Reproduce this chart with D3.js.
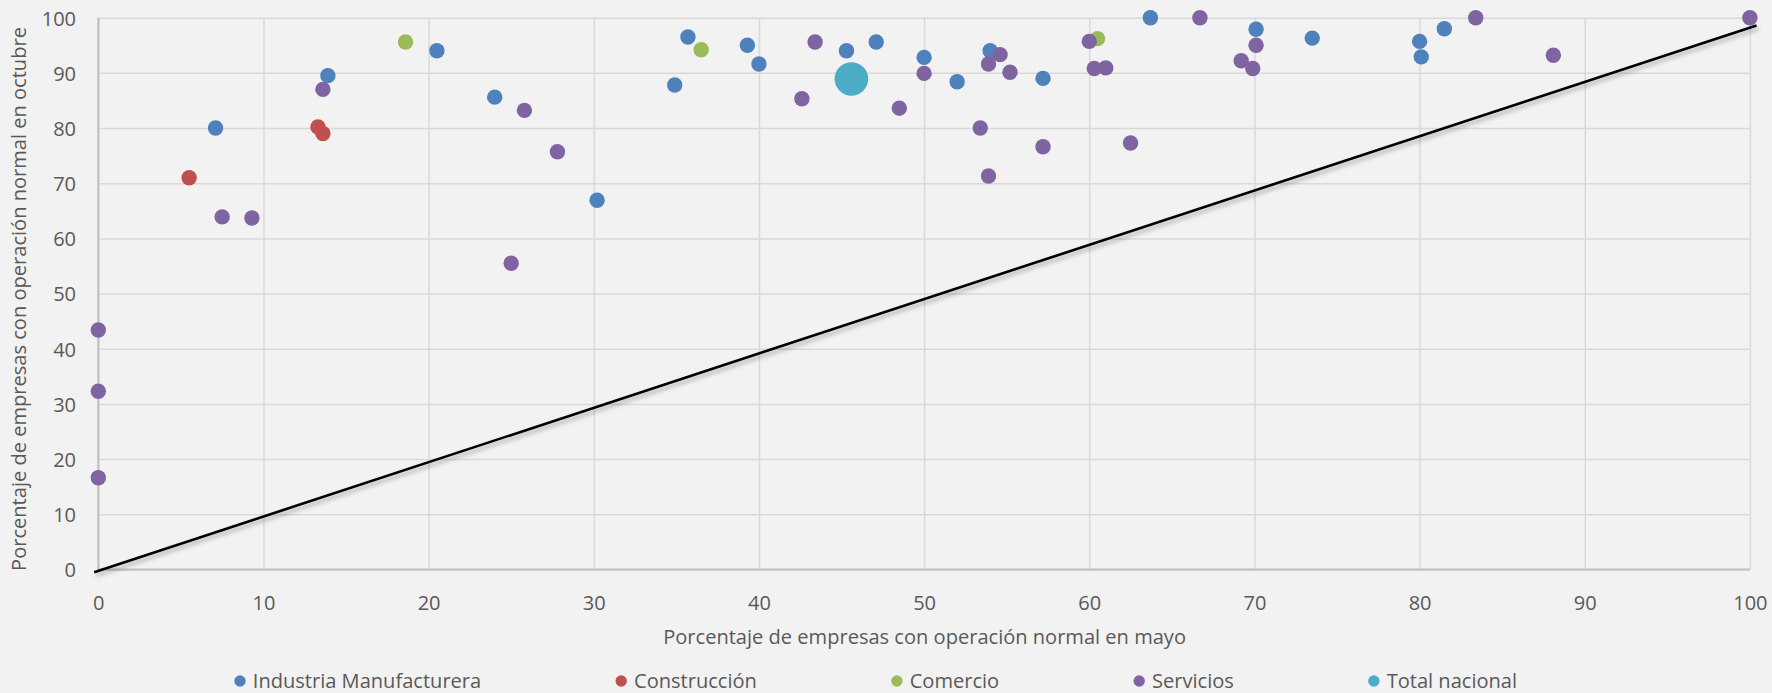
<!DOCTYPE html>
<html>
<head>
<meta charset="utf-8">
<script src="https://cdn.jsdelivr.net/npm/d3@7"></script>
<style>
  html, body { margin: 0; padding: 0; background: #f2f2f2; }
  svg { display: block; }
  text { font-family: "Open Sans", "Noto Sans", sans-serif; fill: #595959; }
</style>
</head>
<body>
<svg id="chart" width="1772" height="693"></svg>
<script>
// values: [mayo, octubre]
const industria = [[7.1,80],[13.9,89.5],[20.5,94],[24,85.6],[30.2,66.9],[34.9,87.8],[35.7,96.5],
  [39.3,95],[40,91.6],[45.3,94],[47.1,95.6],[50,92.8],[52,88.4],[54,94],[57.2,89],[63.7,100],
  [70.1,97.9],[73.5,96.3],[80,95.7],[80.1,92.9],[81.5,98]];
const construccion = [[5.5,71],[13.3,80.2],[13.6,79]];
const comercio = [[18.6,95.6],[36.5,94.2],[60.5,96.2]];
const servicios = [[0,43.4],[0,32.3],[0,16.6],[7.5,63.9],[9.3,63.7],[13.6,87],[25,55.5],[25.8,83.2],
  [27.8,75.7],[42.6,85.3],[43.4,95.6],[48.5,83.6],[50,89.9],[53.4,80],[53.9,71.3],[53.9,91.6],
  [54.6,93.3],[55.2,90.1],[57.2,76.6],[60,95.7],[60.3,90.8],[61,90.9],[62.5,77.3],[66.7,100],
  [69.2,92.2],[69.9,90.8],[70.1,95],[83.4,100],[88.1,93.2],[100,100]];
const totalNacional = [[45.6,88.9]];
const diagonal = [[-0.25,-0.5],[100.4,98.6]];

const seriesNames = ["Industria Manufacturera", "Construcción", "Comercio", "Servicios", "Total nacional"];
const seriesColors = ["#4f81bd", "#c0504d", "#9bbb59", "#8064a2", "#4bacc6"];
const seriesData = [industria, construccion, comercio, servicios, totalNacional];
const xTicks = d3.range(0, 101, 10);
const yTicks = d3.range(0, 101, 10);
const xTitle = "Porcentaje de empresas con operación normal en mayo";
const yTitle = "Porcentaje de empresas con operación normal en octubre";

const svg = d3.select('#chart');
const plotLeft = 98.3, plotRight = 1749.9, plotTop = 17.7, plotBottom = 569.4;

const x = d3.scaleLinear().domain([0, 100]).range([plotLeft, plotRight]);
const y = d3.scaleLinear().domain([0, 100]).range([plotBottom, plotTop]);

// pick a font size so the x title is about as wide as in the picture
const probe = svg.append('text').attr('font-size', 20).text(xTitle);
const fs = 20 * 523 / probe.node().getComputedTextLength();
probe.remove();
const tickFs = 20;

// grid
svg.append('g')
  .attr('transform', `translate(0,${plotBottom})`)
  .call(d3.axisBottom(x).tickValues(xTicks).tickSize(-(plotBottom - plotTop)).tickFormat(''))
  .call(g => g.select('.domain').remove())
  .call(g => g.selectAll('line').attr('stroke', '#d9d9d9').attr('stroke-width', 1.5));
svg.append('g')
  .attr('transform', `translate(${plotLeft},0)`)
  .call(d3.axisLeft(y).tickValues(yTicks).tickSize(-(plotRight - plotLeft)).tickFormat(''))
  .call(g => g.select('.domain').remove())
  .call(g => g.selectAll('line').attr('stroke', '#d9d9d9').attr('stroke-width', 1.5));

// axis lines
svg.append('line').attr('x1', plotLeft).attr('x2', plotLeft).attr('y1', plotTop).attr('y2', plotBottom)
  .attr('stroke', '#bfbfbf').attr('stroke-width', 2);
svg.append('line').attr('x1', plotLeft).attr('x2', plotRight).attr('y1', plotBottom).attr('y2', plotBottom)
  .attr('stroke', '#bfbfbf').attr('stroke-width', 2);

// tick labels
svg.append('g')
  .attr('transform', `translate(0,${plotBottom})`)
  .call(d3.axisBottom(x).tickValues(xTicks).tickSize(0))
  .call(g => g.select('.domain').remove())
  .call(g => g.selectAll('text').attr('y', 40.6).attr('dy', null)
    .attr('font-size', tickFs).attr('font-family', null).style('fill', '#595959'));
svg.append('g')
  .attr('transform', `translate(${plotLeft},0)`)
  .call(d3.axisLeft(y).tickValues(yTicks).tickSize(0))
  .call(g => g.select('.domain').remove())
  .call(g => g.selectAll('text').attr('x', 76 - plotLeft).attr('dy', null).attr('y', 7.3)
    .attr('font-size', tickFs).attr('font-family', null).style('fill', '#595959'));

// diagonal with a soft shadow
const defs = svg.append('defs');
defs.append('filter').attr('id', 'shadow').attr('x', '-5%').attr('y', '-5%').attr('width', '110%').attr('height', '120%')
  .append('feDropShadow').attr('dx', 2).attr('dy', 3).attr('stdDeviation', 2)
  .attr('flood-color', '#000').attr('flood-opacity', 0.3);

svg.append('path')
  .datum(diagonal)
  .attr('d', d3.line().x(d => x(d[0])).y(d => y(d[1])))
  .attr('stroke', '#000').attr('stroke-width', 2.6).attr('fill', 'none')
  .attr('filter', 'url(#shadow)');

// points
seriesData.forEach((data, i) => {
  svg.append('g')
    .selectAll('circle')
    .data(data)
    .enter()
    .append('circle')
    .attr('cx', d => x(d[0]))
    .attr('cy', d => y(d[1]))
    .attr('r', i === 4 ? 16.8 : 7.7)
    .attr('fill', seriesColors[i]);
});

// axis titles
svg.append('text')
  .attr('x', (plotLeft + plotRight) / 2 + 0.5).attr('y', 643.5)
  .attr('text-anchor', 'middle').attr('font-size', fs)
  .text(xTitle);
svg.append('text')
  .attr('transform', `translate(25.5,299) rotate(-90)`)
  .attr('text-anchor', 'middle').attr('font-size', fs)
  .text(yTitle);

// legend, first marker where the reference has it, 140px between items
const legend = svg.append('g').attr('transform', 'translate(240,0)');
const items = legend.selectAll('g')
  .data(seriesNames)
  .enter()
  .append('g');
items.append('circle').attr('r', 5.7).attr('cy', 681).attr('fill', (d, i) => seriesColors[i]);
items.append('text').attr('x', 12.8).attr('y', 688).attr('font-size', fs).text(d => d);

let pos = 0;
items.each(function() {
  const w = d3.select(this).select('text').node().getComputedTextLength();
  d3.select(this).attr('transform', `translate(${pos},0)`);
  pos += 12.8 + w + 140;
});
</script>
</body>
</html>
